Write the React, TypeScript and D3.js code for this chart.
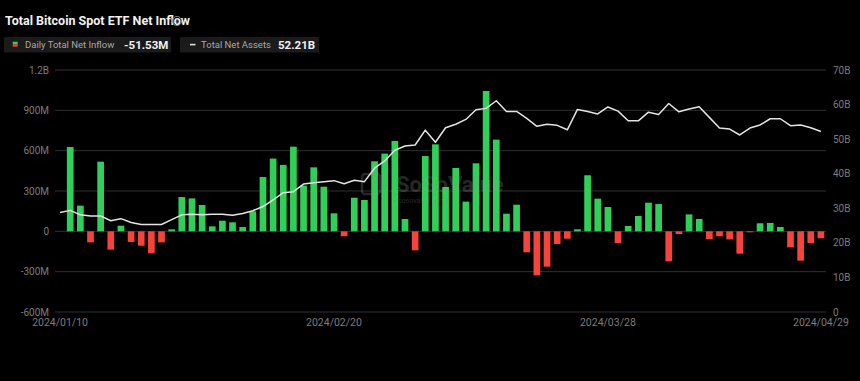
import React from "react";
import * as d3 from "d3";

const dates: string[] = [
  "2024/01/10","2024/01/11","2024/01/12","2024/01/16","2024/01/17","2024/01/18","2024/01/19","2024/01/22","2024/01/23","2024/01/24","2024/01/25","2024/01/26","2024/01/29","2024/01/30","2024/01/31",
  "2024/02/01","2024/02/02","2024/02/05","2024/02/06","2024/02/07","2024/02/08","2024/02/09","2024/02/12","2024/02/13","2024/02/14","2024/02/15","2024/02/16","2024/02/20","2024/02/21","2024/02/22","2024/02/23","2024/02/26","2024/02/27","2024/02/28","2024/02/29",
  "2024/03/01","2024/03/04","2024/03/05","2024/03/06","2024/03/07","2024/03/08","2024/03/11","2024/03/12","2024/03/13","2024/03/14","2024/03/15","2024/03/18","2024/03/19","2024/03/20","2024/03/21","2024/03/22","2024/03/25","2024/03/26","2024/03/27","2024/03/28",
  "2024/04/01","2024/04/02","2024/04/03","2024/04/04","2024/04/05","2024/04/08","2024/04/09","2024/04/10","2024/04/11","2024/04/12","2024/04/15","2024/04/16","2024/04/17","2024/04/18","2024/04/19","2024/04/22","2024/04/23","2024/04/24","2024/04/25","2024/04/26","2024/04/29",
];

// Daily total net inflow, millions USD
const netInflow: (number | null)[] = [
  null, 627, 191, -82, 518, -136, 42, -79, -107, -161, -82, 15, 255, 245, 196,
  37, 79, 67, 32, 149, 404, 541, 494, 630, 340, 476, 332, 134, -37, 250, 233, 521, 578, 672, 92,
  -141, 560, 647, 330, 471, 221, 506, 1044, 682, 131, 198, -156, -327, -263, -94, -55, 15, 417, 243, 181,
  -87, 40, 114, 213, 203, -223, -20, 126, 92, -57, -37, -60, -166, -5, 60, 62, 32, -119, -218, -87, -51.53,
];

// Total net assets, billions USD
const netAssets: number[] = [
  28.8, 29.4, 28.1, 27.8, 27.8, 26.4, 27.0, 25.9, 25.3, 25.3, 25.3, 26.7, 28.1, 28.3, 28.1,
  28.3, 28.3, 28.0, 28.5, 29.3, 30.5, 32.4, 34.5, 34.8, 37.0, 37.4, 37.7, 38.0, 37.1, 38.1, 37.7, 41.6, 43.7, 46.8, 48.0,
  48.3, 52.6, 49.1, 53.3, 54.3, 55.7, 58.5, 58.9, 61.1, 58.0, 58.0, 56.0, 53.7, 54.3, 54.0, 52.7, 58.6, 58.0, 57.3, 59.3,
  58.1, 55.3, 55.3, 57.8, 57.1, 60.3, 57.9, 58.7, 59.4, 56.3, 53.2, 52.9, 51.2, 53.2, 54.1, 55.9, 55.9, 53.9, 54.1, 53.3, 52.21,
];

const leftTicks: number[] = [-600, -300, 0, 300, 600, 900, 1200];
const leftTickLabels: string[] = ["-600M", "-300M", "0", "300M", "600M", "900M", "1.2B"];
const rightTicks: number[] = [0, 10, 20, 30, 40, 50, 60, 70];
const rightTickLabels: string[] = ["0", "10B", "20B", "30B", "40B", "50B", "60B", "70B"];
const xTickLabels: string[] = ["2024/01/10", "2024/02/20", "2024/03/28", "2024/04/29"];

const W = 860;
const H = 381;
const FONT = "Roboto, 'Noto Sans', sans-serif";
const GREEN = "#2fcf58";
const RED = "#f4443b";
const AXIS_TEXT = "#7c7c7c";
const GRID = "#303030";

export default function App() {
  const x = d3.scaleBand<string>().domain(dates).range([55, 826]).paddingInner(0.34).paddingOuter(0.17);
  const yL = d3.scaleLinear().domain([-600, 1200]).range([312, 70]);
  const yR = d3.scaleLinear().domain([0, 70]).range([312, 70]);
  const cx = (d: string) => (x(d) ?? 0) + x.bandwidth() / 2;

  const line = d3
    .line<number>()
    .x((_, i) => cx(dates[i]))
    .y((v) => yR(v));

  return (
    <svg
      width={W}
      height={H}
      style={{ position: "absolute", left: 0, top: 0, background: "#000" }}
      fontFamily={FONT}
    >
      <rect x={0} y={0} width={W} height={H} fill="#000" />

      {/* Title */}
      <text x={5} y={25} fill="#f2f2f2" fontSize={12.5} fontWeight={700}>
        Total Bitcoin Spot ETF Net Inflow
      </text>
      <circle cx={177} cy={21} r={4.6} fill="none" stroke="#888" strokeWidth={0.9} />
      <circle cx={177} cy={18.9} r={0.6} fill="#888" />
      <line x1={177} x2={177} y1={20.2} y2={23.6} stroke="#888" strokeWidth={0.9} />

      {/* Legend */}
      <rect x={4} y={37} width={167} height={15.5} fill="#1b1b1b" rx={1} />
      <rect x={12.7} y={41.7} width={5} height={2.5} fill={GREEN} />
      <rect x={12.7} y={44.2} width={5} height={2.5} fill={RED} />
      <text x={25} y={48.3} fill="#a8a8a8" fontSize={9.5}>Daily Total Net Inflow</text>
      <text x={124} y={48.8} fill="#f2f2f2" fontSize={11.5} fontWeight={700}>-51.53M</text>

      <rect x={180} y={37} width={139} height={15.5} fill="#1b1b1b" rx={1} />
      <line x1={190} x2={195.5} y1={44.6} y2={44.6} stroke="#e0e0e0" strokeWidth={1.6} />
      <text x={201} y={48.3} fill="#a8a8a8" fontSize={9.5}>Total Net Assets</text>
      <text x={278} y={48.8} fill="#f2f2f2" fontSize={11.5} fontWeight={700}>52.21B</text>

      {/* Grid lines */}
      {leftTicks.map((t) => (
        <line key={"g" + t} x1={55} x2={826} y1={yL(t)} y2={yL(t)} stroke={GRID} strokeWidth={1} />
      ))}

      {/* Left axis labels */}
      {leftTicks.map((t, i) => (
        <text key={"l" + t} x={49} y={yL(t)} dy="0.35em" textAnchor="end" fill={AXIS_TEXT} fontSize={10}>
          {leftTickLabels[i]}
        </text>
      ))}

      {/* Right axis labels */}
      {rightTicks.map((t, i) => (
        <text key={"r" + t} x={833} y={yR(t)} dy="0.35em" textAnchor="start" fill={AXIS_TEXT} fontSize={10}>
          {rightTickLabels[i]}
        </text>
      ))}

      {/* X axis labels */}
      {xTickLabels.map((d) => (
        <text key={"x" + d} x={cx(d)} y={326} textAnchor="middle" fill={AXIS_TEXT} fontSize={10.5}>
          {d}
        </text>
      ))}

      {/* Bars */}
      {dates.map((d, i) => {
        const v = netInflow[i];
        if (v === null || v === undefined) return null;
        const y0 = yL(0);
        const y1 = yL(v);
        return (
          <rect
            key={"b" + d}
            x={x(d)}
            y={Math.min(y0, y1)}
            width={x.bandwidth()}
            height={Math.max(1, Math.abs(y1 - y0))}
            fill={v >= 0 ? GREEN : RED}
          />
        );
      })}

      {/* Watermark */}
      <g opacity={0.25}>
        <rect x={362} y={174} width={18} height={20} rx={3} fill="none" stroke="#9a9a9a" strokeWidth={2.5} />
        <text x={396} y={192} fill="#9a9a9a" fontSize={22} fontWeight={700}>SoSoValue</text>
        <text x={398} y={203} fill="#9a9a9a" fontSize={7}>sosovalue.com</text>
      </g>

      {/* Net assets line */}
      <path d={line(netAssets) ?? ""} fill="none" stroke="#e4e4e4" strokeWidth={1.5} strokeLinejoin="round" />
    </svg>
  );
}
